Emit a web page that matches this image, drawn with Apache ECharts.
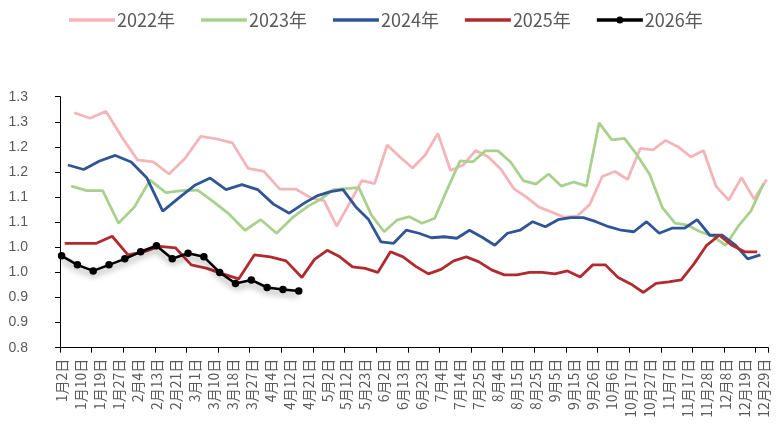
<!DOCTYPE html>
<html><head><meta charset="utf-8">
<script src="https://cdn.jsdelivr.net/npm/echarts@6/dist/echarts.min.js"></script>
<style>html,body{margin:0;padding:0;background:#fff}#c{width:781px;height:433px}</style>
</head><body><div id="c"></div>
<script>
// Series (weekly observations, one per Friday)
const seriesNames = ['2022年', '2023年', '2024年', '2025年', '2026年'];
const seriesYears = [2022, 2023, 2024, 2025, 2026];
const firstObsJanDay = [7, 6, 5, 3, 2]; // January day of each year's first weekly observation
const seriesColors = ['#F4B5BA', '#A9D18E', '#2F5597', '#B22A2E', '#000000'];

const v2022 = [1.268,1.257,1.271,1.220,1.174,1.170,1.146,1.177,1.221,1.216,1.208,1.157,1.151,1.116,1.116,1.098,
  1.093,1.042,1.087,1.133,1.127,1.204,1.180,1.158,1.184,1.227,1.153,1.164,1.193,1.180,1.155,1.117,1.100,1.080,1.070,1.060,
  1.062,1.085,1.141,1.151,1.135,1.197,1.194,1.213,1.200,1.180,1.193,1.121,1.094,1.139,1.096,1.135];
const v2023 = [1.122,1.113,1.113,1.048,1.080,1.134,1.109,1.113,1.114,1.091,1.066,1.034,1.055,1.028,1.059,1.082,
  1.096,1.115,1.117,1.119,1.064,1.031,1.054,1.061,1.048,1.058,1.116,1.172,1.170,1.192,1.192,1.170,1.133,1.126,1.146,1.122,
  1.130,1.122,1.248,1.214,1.217,1.184,1.145,1.079,1.048,1.044,1.031,1.022,1.004,1.042,1.072,1.127];
const v2024 = [1.164,1.155,1.172,1.183,1.170,1.138,1.072,1.098,1.123,1.138,1.115,1.125,1.115,1.086,1.068,1.089,
  1.103,1.111,1.115,1.081,1.056,1.011,1.008,1.034,1.028,1.019,1.021,1.018,1.034,1.020,1.004,1.028,1.034,1.051,1.041,1.055,
  1.059,1.059,1.051,1.041,1.034,1.031,1.051,1.028,1.038,1.038,1.055,1.024,1.024,1.005,0.977,0.985];
const v2025 = [1.008,1.008,1.008,1.022,0.985,0.991,1.002,0.999,0.965,0.958,0.947,0.937,0.985,0.981,0.973,0.940,
  0.976,0.994,0.981,0.961,0.958,0.950,0.991,0.981,0.962,0.947,0.956,0.973,0.981,0.971,0.955,0.945,0.945,0.950,0.950,0.947,
  0.953,0.941,0.965,0.965,0.940,0.927,0.910,0.928,0.931,0.935,0.967,1.004,1.024,1.004,0.991,0.991];
const v2026 = [0.983,0.965,0.953,0.965,0.977,0.991,1.003,0.977,0.988,0.981,0.950,0.928,0.935,0.920,0.916,0.913];
const seriesValues = [v2022, v2023, v2024, v2025, v2026];

// Y tick labels (0.80 ... 1.30 step 0.05, shown with one decimal)
const yTickLabels = ['0.8','0.9','0.9','1.0','1.0','1.1','1.1','1.2','1.2','1.3','1.3'];
const yMin = 0.8, yMax = 1.3, yStep = 0.05;

// Category axis: union of all observation dates (month/day), sorted
const dateLabels = seriesValues.map((vals, k) => vals.map((v, i) => {
  const d = new Date(Date.UTC(seriesYears[k], 0, firstObsJanDay[k] + 7 * i));
  return { key: (d.getUTCMonth() + 1) * 100 + d.getUTCDate(), label: (d.getUTCMonth() + 1) + '月' + d.getUTCDate() + '日' };
}));
const allDates = [].concat(...dateLabels).sort((a, b) => a.key - b.key);
const categories = allDates.map(d => d.label);

const labelColor = '#595959';
const cjk = "'Noto Sans CJK SC', 'Noto Sans', sans-serif";

// legend icons: plain line, and line with dot for the marked series
const iconLine = 'path://M0,0H46V3.4H0Z';
const iconLineDot = 'path://M0,3.3H46V6.7H0Z M19.5,5A3.5,3.5 0 1,1 26.5,5A3.5,3.5 0 1,1 19.5,5Z';

const series = seriesNames.map((name, k) => {
  const isLast = k === seriesNames.length - 1;
  return {
    name, type: 'line',
    data: seriesValues[k].map((v, i) => [dateLabels[k][i].label, v]),
    symbol: isLast ? 'circle' : 'none',
    symbolSize: 7.5,
    showSymbol: isLast,
    showAllSymbol: true,
    z: 2 + k,
    itemStyle: { color: seriesColors[k] },
    lineStyle: isLast
      ? { color: seriesColors[k], width: 2.6, shadowColor: 'rgba(0,0,0,0.45)', shadowBlur: 6, shadowOffsetY: 4 }
      : { color: seriesColors[k], width: 2.8 },
    emphasis: { disabled: true },
    animation: false
  };
});

const chart = echarts.init(document.getElementById('c'), null, { renderer: 'canvas' });
chart.setOption({
  animation: false,
  backgroundColor: '#fff',
  legend: {
    data: seriesNames.map((n, k) => ({ name: n, icon: k === seriesNames.length - 1 ? iconLineDot : iconLine })),
    left: 69, top: 11, padding: 0,
    itemWidth: 46, itemHeight: 18, itemGap: 26,
    symbolKeepAspect: true,
    textStyle: { fontSize: 18, color: labelColor, fontFamily: cjk, padding: [0, 0, 0, -3] }
  },
  grid: { left: 60, right: 12.7, top: 96.7, bottom: 85.3 },
  xAxis: {
    type: 'category',
    data: categories,
    boundaryGap: true,
    axisLine: { show: true, lineStyle: { color: '#000', width: 1 } },
    axisTick: { show: true, interval: 9, length: 5, lineStyle: { color: '#000' } },
    axisLabel: { interval: 5, rotate: 90, margin: 11, fontSize: 14, color: labelColor, fontFamily: cjk },
    splitLine: { show: false }
  },
  yAxis: {
    type: 'value',
    min: yMin, max: yMax, interval: yStep,
    axisLine: { show: true, lineStyle: { color: '#000', width: 1 } },
    axisTick: { show: true, length: 5, lineStyle: { color: '#000' } },
    axisLabel: {
      margin: 32, fontSize: 14, color: labelColor, fontFamily: "'Liberation Sans', sans-serif",
      formatter: v => yTickLabels[Math.round((v - yMin) / yStep)]
    },
    splitLine: { show: false }
  },
  series
});
</script>
</body></html>
